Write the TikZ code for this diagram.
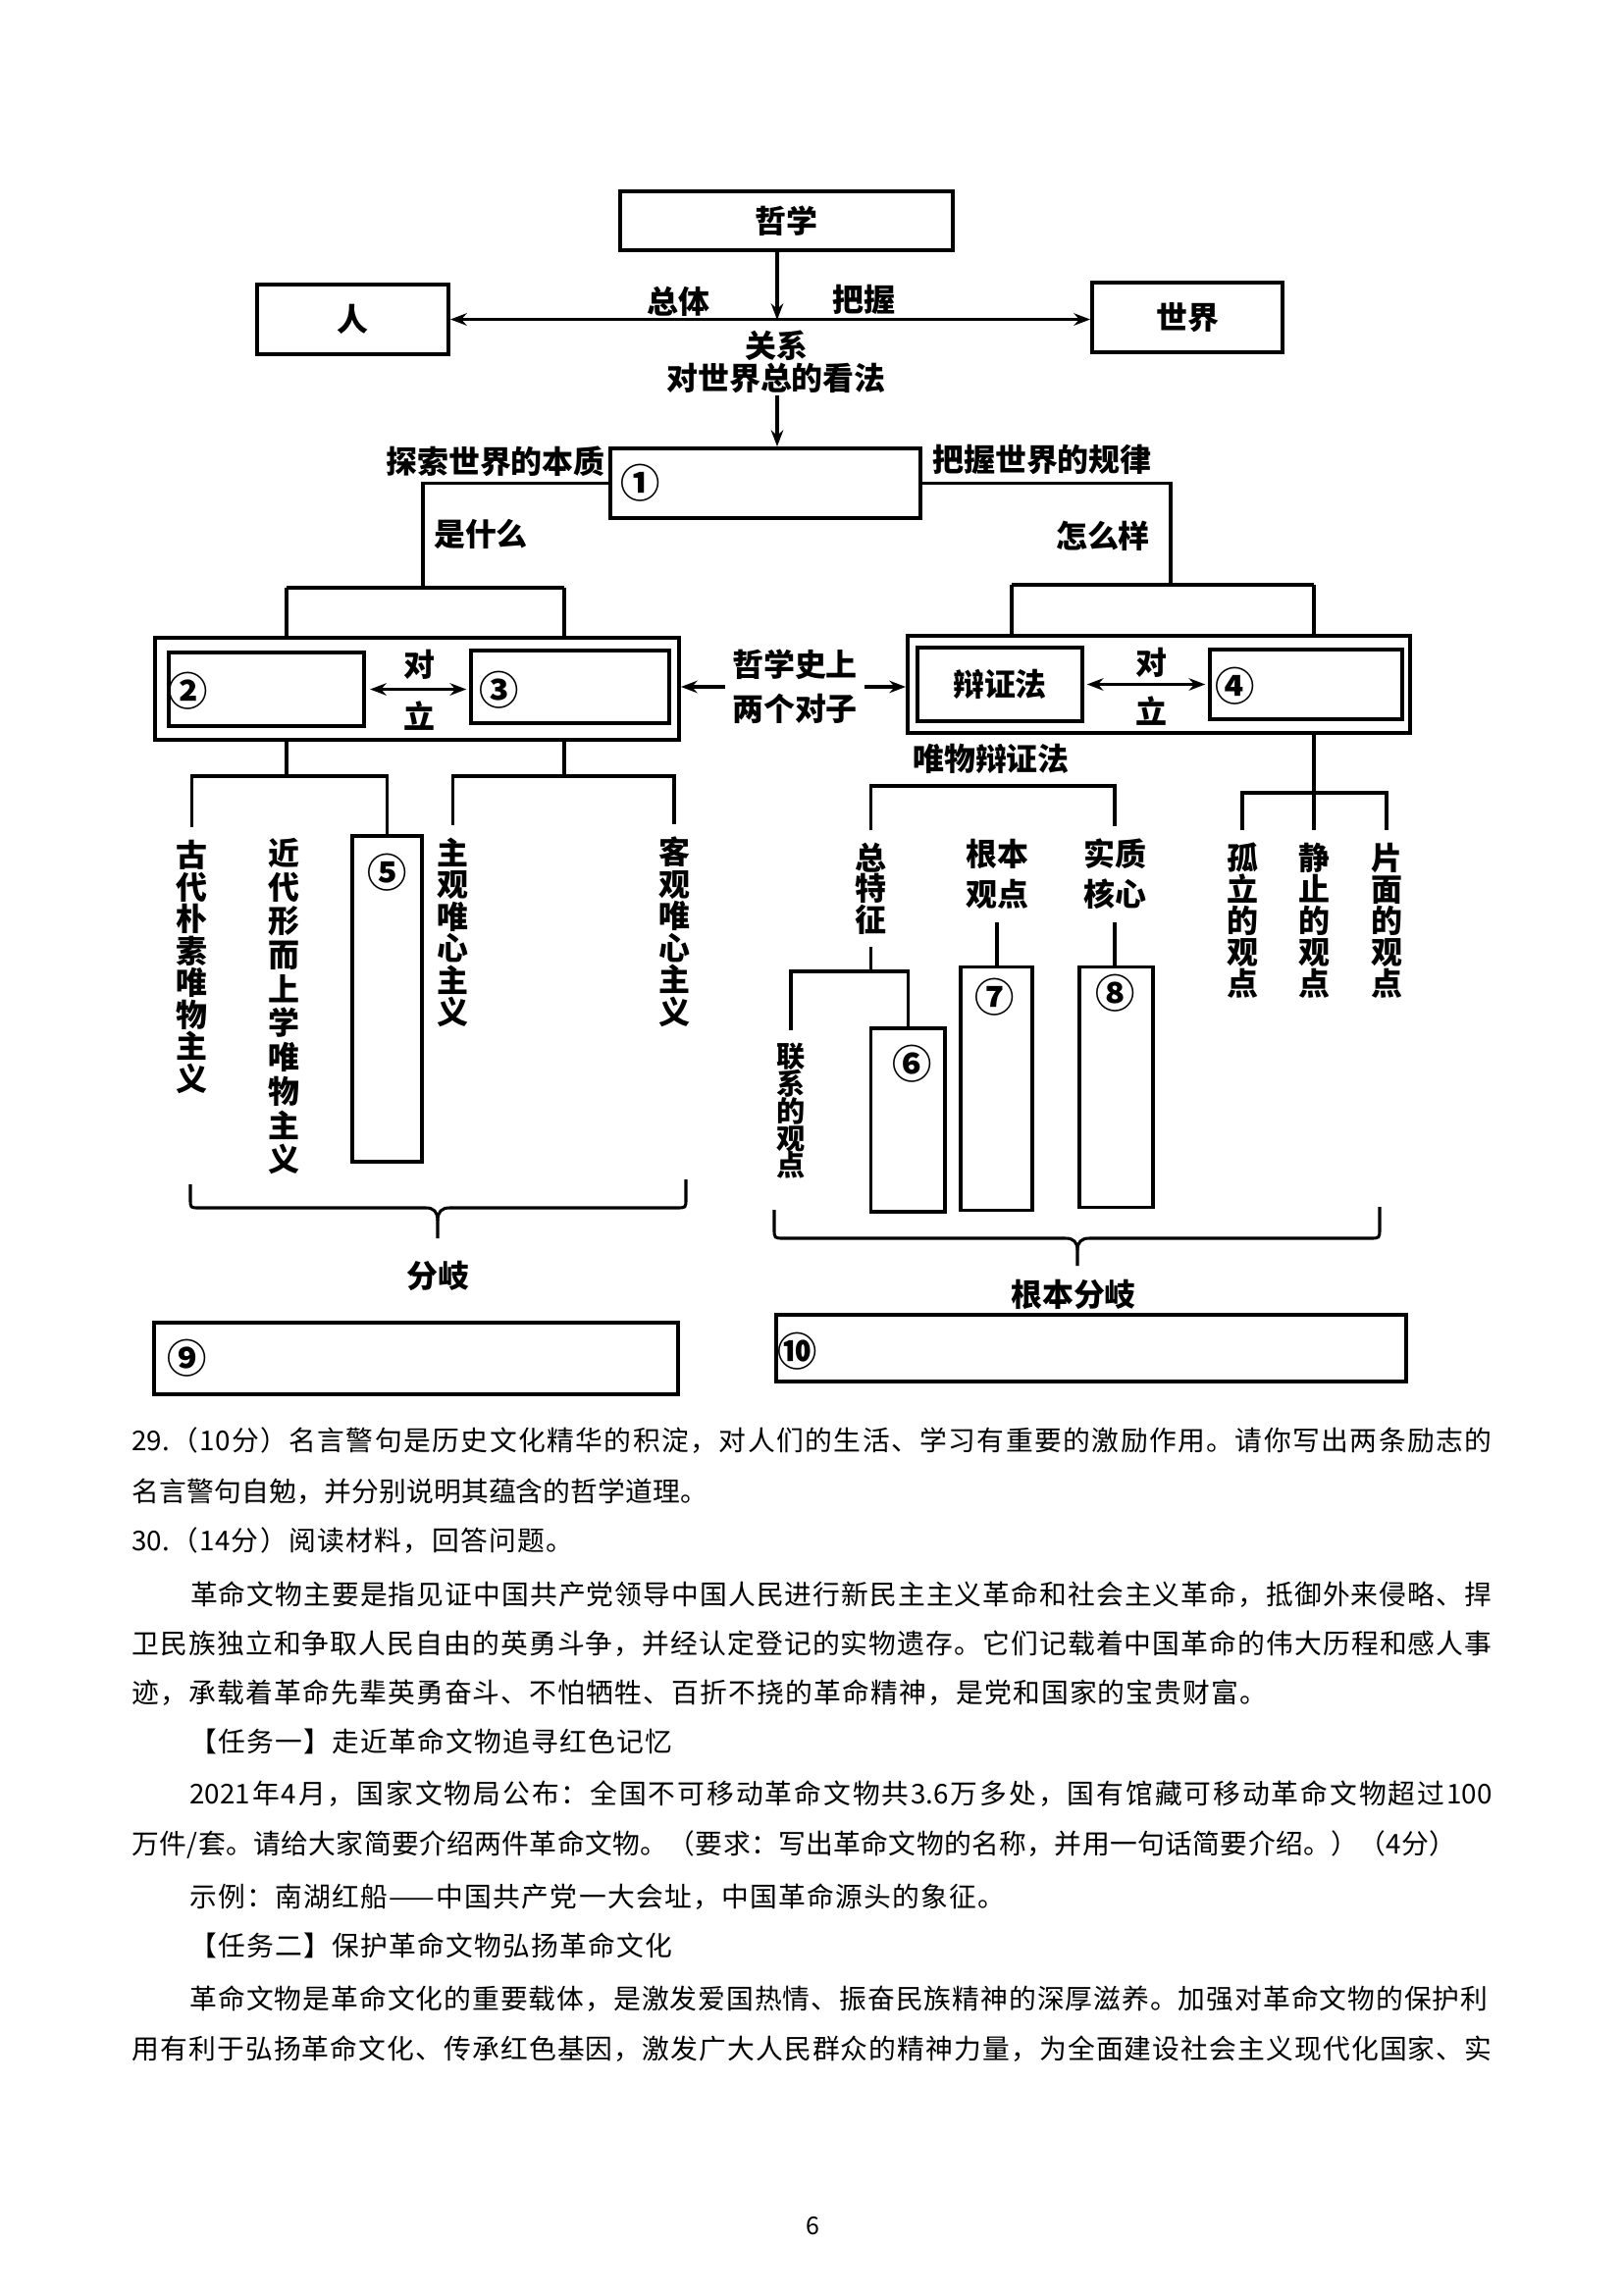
\documentclass[tikz,border=0pt]{standalone}
\usepackage{fontspec}
\setmainfont{Noto Sans CJK SC}
\usetikzlibrary{arrows.meta,fit}
\newdimen\px \px=0.36pt
\makeatletter
\newcommand\jline[2]{\hbox to #1{\def\jsep{}\@tfor\jx:=#2\do{\jsep\jx\def\jsep{\hfill}}}}
\newcommand\vtxt[2]{\vbox{\baselineskip=#1\lineskiplimit=-30pt\lineskip=0pt\@tfor\jx:=#2\do{\hbox to 1em{\hss\jx\hss}}}}
\makeatother
\begin{document}
\begin{tikzpicture}[x=0.36pt,y=-0.36pt,
  box/.style={draw,line width=1.4pt,inner sep=0pt},
  ln/.style={line width=1.1pt},
  arr/.style={ln,-{Stealth[length=6pt,width=4.5pt]}},
  darr/.style={ln,{Stealth[length=6pt,width=4.5pt]}-{Stealth[length=6pt,width=4.5pt]}},
  lbl/.style={font=\bfseries\fontsize{11.5pt}{14pt}\selectfont,inner sep=0pt},
  num/.style={font=\bfseries\fontsize{14.5pt}{16pt}\selectfont,inner sep=0pt},
  vt/.style={font=\bfseries\fontsize{11.5pt}{14pt}\selectfont,inner xsep=0pt,inner ysep=4.5pt},
  body/.style={font=\fontsize{10pt}{12pt}\selectfont,inner sep=0pt,anchor=west}]
\fill[white] (0,0) rectangle (1654,2339);
\useasboundingbox (0,0) rectangle (1654,2339);

% ---------- boxes ----------
\node[box,fit={(632,195) (971,255)}] (zx) {};
\node[lbl] (tzx) at (zx.center) {哲学};
\node[box,fit={(262,290) (457,361)}] (ren) {};
\node[lbl] (tren) at (ren.center) {人};
\node[box,fit={(1113,288) (1307,359)}] (sj) {};
\node[lbl] (tsj) at (sj.center) {世界};
\node[box,fit={(622,457) (938,528)}] (b1) {};
\node[num] (n1) at (653,492) {①};
\node[box,fit={(158,650) (692,754)}] (Lout) {};
\node[box,fit={(172,665) (371,740)}] (b2) {};
\node[num] (n2) at (192,704) {②};
\node[box,fit={(480,663) (682,737)}] (b3) {};
\node[num] (n3) at (509,703) {③};
\node[box,fit={(925,648) (1437,747)}] (Rout) {};
\node[box,fit={(935,660) (1103,735)}] (bz) {};
\node[lbl] (tbz) at (bz.center) {辩证法};
\node[box,fit={(1233,662) (1429,733)}] (b4) {};
\node[num] (n4) at (1259,699) {④};
\node[box,fit={(359,852) (430,1184)}] (b5) {};
\node[num] (n5) at (394.5,889) {⑤};
\node[box,fit={(887.5,1048) (963,1235)}] (b6) {};
\node[num] (n6) at (929.6,1084) {⑥};
\node[box,fit={(978.6,985.5) (1052,1233.5)}] (b7) {};
\node[num] (n7) at (1014,1016) {⑦};
\node[box,fit={(1100,985.5) (1174.6,1230.5)}] (b8) {};
\node[num] (n8) at (1137,1012) {⑧};
\node[box,fit={(157,1348) (691,1421)}] (b9) {};
\node[num] (n9) at (191,1384) {⑨};
\node[box,fit={(791,1340) (1433,1408)}] (b10) {};
\node[num] (n10) at (813,1377) {⑩};

% ---------- labels ----------
\node[lbl] (tzt) at (691,307) {总体};
\node[lbl] (tbw) at (880,305) {把握};
\node[lbl] (tgx) at (791,352) {关系};
\node[lbl] (tkf) at (791,385) {对世界总的看法};
\node[lbl] (tts) at (505,470) {探索世界的本质};
\node[lbl] (tbg) at (1062,468) {把握世界的规律};
\node[lbl] (tsm) at (490,544) {是什么};
\node[lbl] (tzm) at (1124,546) {怎么样};
\node[lbl] (td1) at (427,677) {对};
\node[lbl] (tl1) at (427,730) {立};
\node[lbl] (td2) at (1173,675) {对};
\node[lbl] (tl2) at (1173,725) {立};
\node[lbl,align=center,inner sep=2.5pt,font=\bfseries\fontsize{11.5pt}{16.2pt}\selectfont] (hs) at (810,700) {哲学史上\\两个对子};

\node[vt] (tgd) at (195.5,985.5) {\vtxt{11.7pt}{古代朴素唯物主义}};
\node[vt] (tjd) at (289,1025.5) {\vtxt{12.5pt}{近代形而上学唯物主义}};
\node[vt] (tzg) at (461.5,950.5) {\vtxt{11.7pt}{主观唯心主义}};
\node[vt] (tkg) at (687,949.5) {\vtxt{11.7pt}{客观唯心主义}};
\node[lbl] (twb) at (1010,773) {唯物辩证法};
\node[vt] (tztz) at (887.5,905.5) {\vtxt{11.3pt}{总特征}};
\node[vt,align=center,font=\bfseries\fontsize{11.5pt}{14.8pt}\selectfont] (tgb) at (1016,891) {根本\\观点};
\node[vt,align=center,font=\bfseries\fontsize{11.5pt}{14.8pt}\selectfont] (tsz) at (1136,891) {实质\\核心};
\node[vt,font=\bfseries\fontsize{10.5pt}{12pt}\selectfont] (tlx) at (806,1132.5) {\vtxt{10pt}{联系的观点}};
\node[vt] (tgl) at (1266,938) {\vtxt{11.5pt}{孤立的观点}};
\node[vt] (tjz) at (1339,938) {\vtxt{11.5pt}{静止的观点}};
\node[vt] (tpm) at (1413,938) {\vtxt{11.5pt}{片面的观点}};
\node[lbl] (tfq) at (446,1300) {分岐};
\node[lbl] (tgf) at (1094,1319) {根本分岐};

% ---------- connectors ----------
\coordinate (hx) at (792,326);
\draw[arr] (hx |- zx.south) -- (hx);
\draw[darr] (ren.east) -- (ren.east -| sj.west);
\coordinate (gf) at (792,403);
\draw[arr] (gf) -- (gf |- b1.north);

\coordinate (jL) at (431,599);
\coordinate (jL1) at (292,599);
\coordinate (jL2) at (575,599);
\draw[ln] (b1.west) -| (jL);
\draw[ln] (jL1) -- (jL2);
\draw[ln] (jL1) -- (jL1 |- Lout.north);
\draw[ln] (jL2) -- (jL2 |- Lout.north);

\coordinate (jR) at (1193,596);
\coordinate (jR1) at (1031,596);
\coordinate (jR2) at (1339,596);
\draw[ln] (b1.east) -| (jR);
\draw[ln] (jR1) -- (jR2);
\draw[ln] (jR1) -- (jR1 |- Rout.north);
\draw[ln] (jR2) -- (jR2 |- Rout.north);

\draw[darr,shorten <=1.5pt,shorten >=1pt] (b2.east) -- (b2.east -| b3.west);
\draw[darr,shorten <=1pt,shorten >=1pt] (bz.east) -- (bz.east -| b4.west);
\draw[arr] (hs.west) -- (hs.west -| Lout.east);
\draw[arr] (hs.east) -- (hs.east -| Rout.west);

\coordinate (cL) at (292,791);
\coordinate (cR) at (575,791);
\draw[ln] (cL |- Lout.south) -- (cL);
\draw[ln] (cR |- Lout.south) -- (cR);
\draw[ln] (tgd.north) |- (cL) -| (b5.north);
\draw[ln] (tzg.north) |- (cR) -| (tkg.north);

\coordinate (wb) at (1011,801);
\draw[ln] (tztz.north) |- (wb) -| (tsz.north);
\coordinate (zj) at (887.5,990);
\draw[ln] (tztz.south) -- (zj);
\draw[ln] (tlx.north) |- (zj) -| (b6.north);
\draw[ln] (tgb.south) -- (tgb.south |- b7.north);
\draw[ln] (tsz.south) -- (tsz.south |- b8.north);
\coordinate (rj) at (1339,808);
\draw[ln] (rj |- Rout.south) -- (tjz.north);
\draw[ln] (tgl.north) |- (rj) -| (tpm.north);

% ---------- braces ----------
\draw[ln] (194,1207) -- (194,1222) .. controls (194,1231) .. (203,1231) -- (434,1231) .. controls (442,1231) and (446,1235) .. (446,1244) -- (446,1262);
\draw[ln] (446,1244) .. controls (446,1235) and (450,1231) .. (458,1231) -- (689,1231) .. controls (699,1231) .. (699,1222) -- (699,1202);
\draw[ln] (789,1233) -- (789,1252) .. controls (789,1262) .. (799,1262) -- (1086,1262) .. controls (1094,1262) and (1098,1266) .. (1098,1274) -- (1098,1290);
\draw[ln] (1098,1274) .. controls (1098,1266) and (1102,1262) .. (1110,1262) -- (1396,1262) .. controls (1406,1262) .. (1406,1252) -- (1406,1230);

% ---------- body text ----------
\node[body] (p1) at (134,1468) {\jline{1386\px}{{29.}（{10}分）名言警句是历史文化精华的积淀，对人们的生活、学习有重要的激励作用。请你写出两条励志的}};
\node[body] (p2) at (134,1520) {\jline{587\px}{名言警句自勉，并分别说明其蕴含的哲学道理。}};
\node[body] (p3) at (134,1570) {\jline{450\px}{{30.}（{14}分）阅读材料，回答问题。}};
\node[body] (p4) at (193.5,1625) {\jline{1326\px}{革命文物主要是指见证中国共产党领导中国人民进行新民主主义革命和社会主义革命，抵御外来侵略、捍}};
\node[body] (p5) at (134,1675) {\jline{1386\px}{卫民族独立和争取人民自由的英勇斗争，并经认定登记的实物遗存。它们记载着中国革命的伟大历程和感人事}};
\node[body] (p6) at (134,1725) {\jline{1157\px}{迹，承载着革命先辈英勇奋斗、不怕牺牲、百折不挠的革命精神，是党和国家的宝贵财富。}};
\node[body] (p7) at (193,1775) {\jline{492\px}{【任务一】走近革命文物追寻红色记忆}};
\node[body] (p8) at (193,1828) {\jline{1327\px}{{2021}年{4}月，国家文物局公布：全国不可移动革命文物共{3.6}万多处，国有馆藏可移动革命文物超过{100}}};
\node[body] (p9) at (134,1880) {\jline{1350\px}{万件{/}套。请给大家简要介绍两件革命文物。（要求：写出革命文物的名称，并用一句话简要介绍。）（{4}分）}};
\node[body] (p10) at (193,1933) {\jline{831\px}{示例：南湖红船{——}中国共产党一大会址，中国革命源头的象征。}};
\node[body] (p11) at (193,1983) {\jline{492\px}{【任务二】保护革命文物弘扬革命文化}};
\node[body] (p12) at (193,2037) {\jline{1323\px}{革命文物是革命文化的重要载体，是激发爱国热情、振奋民族精神的深厚滋养。加强对革命文物的保护利}};
\node[body] (p13) at (134,2088) {\jline{1386\px}{用有利于弘扬革命文化、传承红色基因，激发广大人民群众的精神力量，为全面建设社会主义现代化国家、实}};
\node[font=\fontsize{9pt}{10pt}\selectfont,inner sep=0pt] (pg) at (828,2269) {6};
\end{tikzpicture}
\end{document}
